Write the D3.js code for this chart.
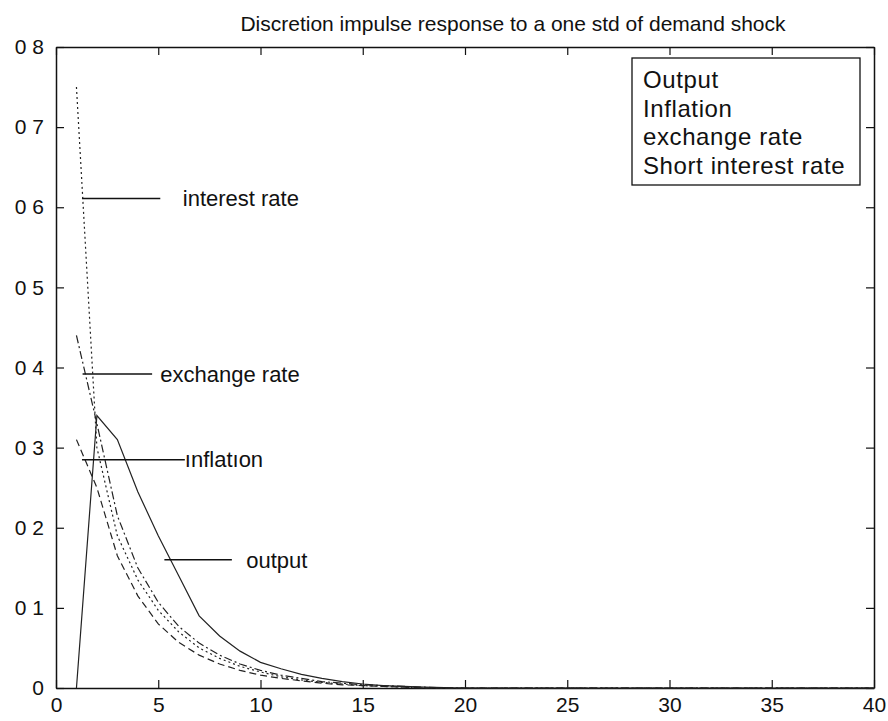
<!DOCTYPE html>
<html>
<head>
<meta charset="utf-8">
<script src="https://cdn.jsdelivr.net/npm/d3@7"></script>
<style>
  body { margin: 0; background: #fff; }
  text { font-family: "Liberation Sans", Arial, sans-serif; fill: #111; }
</style>
</head>
<body>
<svg id="chart" width="888" height="721"></svg>
<script>
const periods = d3.range(1, 41);
const output = [0, 0.34, 0.31, 0.245, 0.19, 0.14, 0.09, 0.065, 0.046, 0.032, 0.024, 0.017, 0.012, 0.008, 0.005, 0.003, 0.002, 0.001, 0.0005, 0,
  0, 0, 0, 0, 0, 0, 0, 0, 0, 0, 0, 0, 0, 0, 0, 0, 0, 0, 0, 0];
const inflation = [0.31, 0.25, 0.165, 0.115, 0.08, 0.057, 0.041, 0.03, 0.022, 0.016, 0.012, 0.009, 0.006, 0.004, 0.003, 0.002, 0.001, 0, 0, 0,
  0, 0, 0, 0, 0, 0, 0, 0, 0, 0, 0, 0, 0, 0, 0, 0, 0, 0, 0, 0];
const exchangeRate = [0.44, 0.33, 0.215, 0.15, 0.107, 0.077, 0.056, 0.041, 0.03, 0.022, 0.016, 0.012, 0.008, 0.006, 0.004, 0.003, 0.002, 0.001, 0, 0,
  0, 0, 0, 0, 0, 0, 0, 0, 0, 0, 0, 0, 0, 0, 0, 0, 0, 0, 0, 0];
const interestRate = [0.75, 0.3, 0.19, 0.135, 0.097, 0.07, 0.05, 0.037, 0.027, 0.02, 0.014, 0.01, 0.007, 0.005, 0.003, 0.002, 0.001, 0, 0, 0,
  0, 0, 0, 0, 0, 0, 0, 0, 0, 0, 0, 0, 0, 0, 0, 0, 0, 0, 0, 0];

const xTicks = [0, 5, 10, 15, 20, 25, 30, 35, 40];
const yTicks = [0, 0.1, 0.2, 0.3, 0.4, 0.5, 0.6, 0.7, 0.8];
const yTickLabels = ["0", "0 1", "0 2", "0 3", "0 4", "0 5", "0 6", "0 7", "0 8"];

const seriesNames = ["Output", "Inflation", "exchange rate", "Short interest rate"];
const seriesData = [output, inflation, exchangeRate, interestRate];
const dashes = [null, "7,4", "8,3,2,3", "2,3"];

// label annotations: [text, x start, x end, y, text x]
const notes = [
  ["interest rate", 1.27, 5.1, 0.611, 6.2],
  ["exchange rate", 1.3, 4.7, 0.392, 5.1],
  ["ınflatıon", 1.27, 6.3, 0.285, 6.3],
  ["output", 5.3, 8.6, 0.16, 9.3]
];

const margin = { top: 47, right: 14, bottom: 33, left: 56 };
const width = 888 - margin.left - margin.right;
const height = 721 - margin.top - margin.bottom;

const svg = d3.select("#chart");
const g = svg.append("g").attr("transform", "translate(" + margin.left + "," + margin.top + ")");

const x = d3.scaleLinear().domain([0, 40]).range([0, width]);
const y = d3.scaleLinear().domain([0, 0.8]).range([height, 0]);

svg.append("text")
  .attr("x", 513)
  .attr("y", 31)
  .attr("text-anchor", "middle")
  .style("font-size", "21px")
  .text("Discretion  impulse response to a one std of demand shock");

// axes, ticks drawn inward like matlab
g.append("g")
  .attr("transform", "translate(0," + height + ")")
  .call(d3.axisBottom(x).tickValues(xTicks).tickSizeInner(-8).tickSizeOuter(0).tickPadding(9))
  .call(a => a.selectAll("text").style("font-size", "21px"));
g.append("g")
  .call(d3.axisTop(x).tickValues(xTicks).tickSizeInner(-8).tickSizeOuter(0).tickFormat(""));
g.append("g")
  .call(d3.axisLeft(y).tickValues(yTicks).tickSizeInner(-8).tickSizeOuter(0).tickPadding(12)
    .tickFormat((d, i) => yTickLabels[i]))
  .call(a => a.selectAll("text").style("font-size", "21px"));
g.append("g")
  .attr("transform", "translate(" + width + ",0)")
  .call(d3.axisRight(y).tickValues(yTicks).tickSizeInner(-8).tickSizeOuter(0).tickFormat(""));
g.selectAll(".domain").attr("stroke", "#111").attr("stroke-width", 1.5);
g.selectAll(".tick line").attr("stroke", "#111").attr("stroke-width", 1.2);

const line = d3.line()
  .x((d, i) => x(periods[i]))
  .y(d => y(d));

seriesData.forEach((s, k) => {
  g.append("path")
    .datum(s)
    .attr("fill", "none")
    .attr("stroke", "#222")
    .attr("stroke-width", 1.2)
    .attr("stroke-dasharray", dashes[k])
    .attr("d", line);
});

notes.forEach(n => {
  g.append("line")
    .attr("x1", x(n[1])).attr("x2", x(n[2]))
    .attr("y1", y(n[3])).attr("y2", y(n[3]))
    .attr("stroke", "#111").attr("stroke-width", 1.5);
  g.append("text")
    .attr("x", x(n[4]))
    .attr("y", y(n[3]))
    .attr("dy", "0.35em")
    .style("font-size", "22px")
    .text(n[0]);
});

// legend (line samples are lost in the scan, only the text shows)
const lg = g.append("g").attr("transform", "translate(" + (width - 242) + ",11)");
lg.append("rect")
  .attr("width", 228).attr("height", 127)
  .attr("fill", "#fff").attr("stroke", "#111").attr("stroke-width", 1.3);
seriesNames.forEach((name, k) => {
  lg.append("text")
    .attr("x", 11).attr("y", 22 + k * 28.5)
    .attr("dy", "0.35em")
    .style("font-size", "24px")
    .style("letter-spacing", "0.6px")
    .text(name);
});
</script>
</body>
</html>
